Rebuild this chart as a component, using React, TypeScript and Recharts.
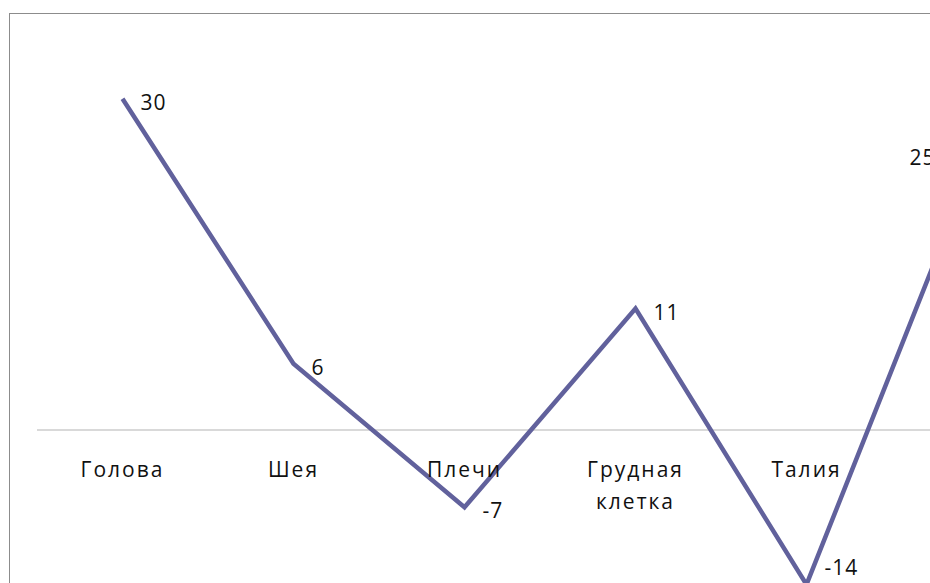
import React from "react";
import { LineChart, Line, XAxis, YAxis, ReferenceLine, LabelList } from "recharts";

const categories = ["Голова", "Шея", "Плечи", "Грудная клетка", "Талия", "Бедра"];
const values = [30, 6, -7, 11, -14, 25];
const baseline = [0, 0, 0, 0, 0, 0];

const data = categories.map((c, i) => ({ name: c, value: values[i], zero: baseline[i] }));

const FONT = "'Open Sans', 'Noto Sans', sans-serif";
const LINE_COLOR = "#61619c";

const CategoryLabel = (props: any) => {
  const { x, y, index } = props;
  const words = String(categories[index]).split(" ");
  return (
    <text
      x={x}
      y={y + 47}
      textAnchor="middle"
      fontFamily={FONT}
      fontSize={21}
      letterSpacing={2}
      fill="#111"
    >
      {words.map((w, i) => (
        <tspan key={i} x={x} dy={i === 0 ? 0 : 32}>
          {w}
        </tspan>
      ))}
    </text>
  );
};

// labels are kept inside the visible chart area (like the original's auto-fit)
const LABEL_MAX_BASELINE = 575;

const ValueLabel = (props: any) => {
  const { x, y, index, value } = props;
  const last = index === values.length - 1;
  return (
    <text
      x={last ? x - 42 : x + 18}
      y={Math.min(y + 11, LABEL_MAX_BASELINE)}
      textAnchor={last ? "end" : "start"}
      fontFamily={FONT}
      fontSize={21}
      letterSpacing={1}
      fill="#111"
    >
      {value}
    </text>
  );
};

export default function App() {
  return (
    <div
      style={{
        position: "fixed",
        left: 0,
        top: 0,
        width: 930,
        height: 583,
        overflow: "hidden",
        background: "#fff",
      }}
    >
      <div
        style={{
          position: "absolute",
          left: 9,
          top: 13,
          width: 2000,
          height: 2000,
          borderLeft: "1px solid #8c8c8c",
          borderTop: "1px solid #8c8c8c",
        }}
      />
      <div style={{ position: "absolute", left: 0, top: 0 }}>
        <LineChart
          width={1200}
          height={700}
          data={data}
          margin={{ top: 43.6, left: 37, right: 137, bottom: 49.2 }}
        >
          <XAxis dataKey="name" hide padding={{ left: 85.5, right: 85.5 }} />
          <YAxis hide domain={[-20, 35]} />
          <ReferenceLine y={0} stroke="#b3b3b3" strokeWidth={1} />
          <Line
            dataKey="zero"
            stroke="none"
            dot={false}
            activeDot={false}
            isAnimationActive={false}
          >
            <LabelList dataKey="name" content={CategoryLabel} />
          </Line>
          <Line
            dataKey="value"
            stroke={LINE_COLOR}
            strokeWidth={4.5}
            dot={false}
            activeDot={false}
            isAnimationActive={false}
          >
            <LabelList dataKey="value" content={ValueLabel} />
          </Line>
        </LineChart>
      </div>
    </div>
  );
}
